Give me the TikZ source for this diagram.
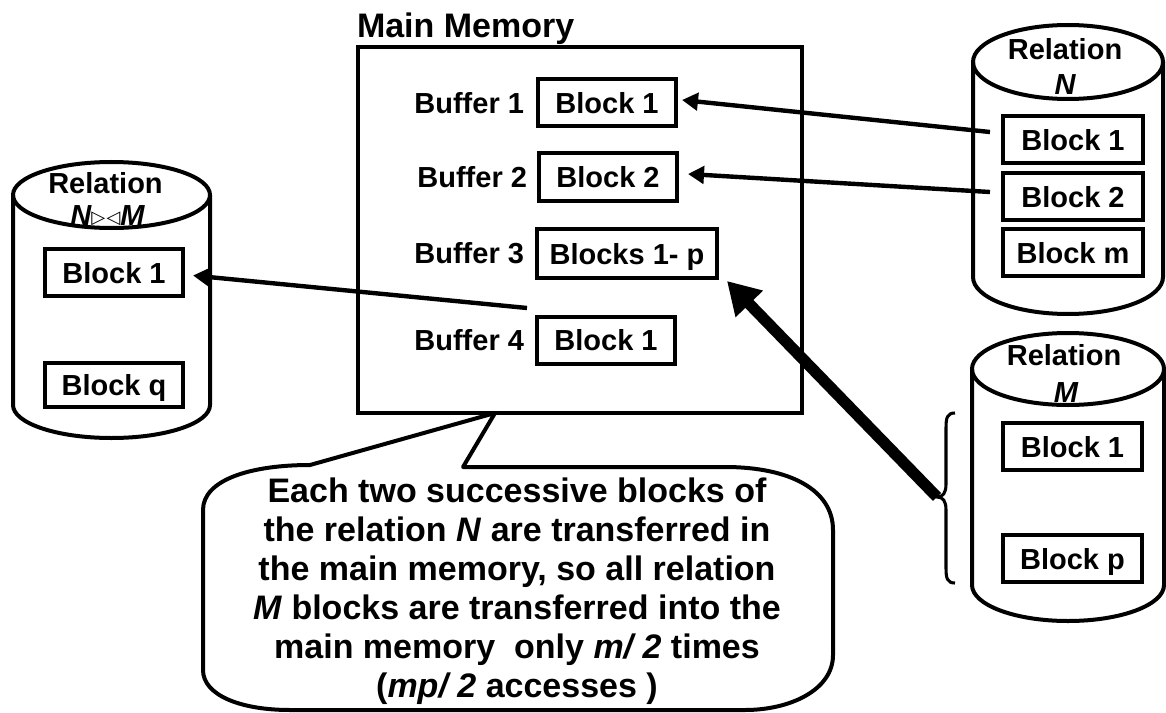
\documentclass[tikz,border=0pt]{standalone}
\usepackage{fontspec}
\setmainfont{Liberation Sans}
\newfontfamily\symfont{DejaVu Sans}
\usetikzlibrary{arrows.meta}

\begin{document}
\begin{tikzpicture}[x=0.75pt,y=-0.75pt,
  every node/.style={inner sep=0pt, outer sep=0pt},
  lbl/.style={font=\fontsize{21.75pt}{26pt}\selectfont\bfseries, text height=16pt, text depth=0pt},
  blk/.style={lbl, draw, line width=3pt, minimum width=103.5pt, minimum height=35.25pt},
  ttl/.style={font=\fontsize{21.75pt}{26pt}\selectfont\bfseries, anchor=base},
  big/.style={font=\fontsize{25.5pt}{29.25pt}\selectfont\bfseries},
  ln/.style={line width=3pt},
  arr/.style={line width=3.3pt, -{Triangle[length=12pt,width=13pt]}},
  bigarr/.style={line width=8.5pt, -{Triangle[length=24pt,width=27pt]}},
]
\fill[white] (0,0) rectangle (1166,713);
\useasboundingbox (0,0) rectangle (1166,713);

% ---------- main memory ----------
\node[draw, line width=3pt, minimum width=333pt, minimum height=274.5pt] (mem) at (580,230) {};
\node[big, anchor=base west] (memt) at (357,38) {Main Memory};

\node[blk] (m1) at (607,103) {Block 1};
\node[blk] (m2) at (608,177) {Block 2};
\node[blk, minimum width=135pt, minimum height=36.75pt] (m3) at (627,253.5) {Blocks 1- p};
\node[blk] (m4) at (606,340) {Block 1};

\node[lbl, anchor=east] (buf1) at (524,103) {Buffer 1};
\node[lbl, anchor=east] (buf2) at (527,177) {Buffer 2};
\node[lbl, anchor=east] (buf3) at (524,253) {Buffer 3};
\node[lbl, anchor=east] (buf4) at (524,340) {Buffer 4};

% ---------- relation N (disk) ----------
\draw[ln] (1068,62) ellipse [x radius=95, y radius=37];
\draw[ln] (973,62) -- (973,277) arc[start angle=180, end angle=0, x radius=95, y radius=37] -- (1163,62);
\node[ttl] (nt) at (1065,60) {Relation};
\node[ttl] (nn) at (1065,95) {\itshape N};
\node[blk, minimum width=105pt] (n1) at (1073,140) {Block 1};
\node[blk, minimum width=105pt] (n2) at (1073,196.5) {Block 2};
\node[blk, minimum width=105pt] (n3) at (1073,252.5) {Block m};

% ---------- relation M (disk) ----------
\draw[ln] (1068,369) ellipse [x radius=96, y radius=36];
\draw[ln] (972,369) -- (972,585) arc[start angle=180, end angle=0, x radius=96, y radius=36] -- (1164,369);
\node[ttl] (mt) at (1064,365) {Relation};
\node[ttl] (mm) at (1066,402) {\itshape M};
\node[blk, minimum width=104pt] (k1) at (1072.5,446.5) {Block 1};
\node[blk, minimum width=104pt] (kp) at (1072.5,558.5) {Block p};

% ---------- result relation (disk) ----------
\draw[ln] (111.5,195) ellipse [x radius=98.5, y radius=33];
\draw[ln] (13,195) -- (13,405) arc[start angle=180, end angle=0, x radius=98.5, y radius=33] -- (210,195);
\node[ttl] (rt) at (105.5,193) {Relation};
\node[ttl] (rn) at (107.5,225) {\itshape N{\symfont\fontsize{13.5pt}{14pt}\selectfont\raisebox{1pt}{▷\kern1pt◁}}M};
\node[blk] (r1) at (114,272.5) {Block 1};
\node[blk, minimum height=33pt] (rq) at (114,385) {Block q};

% ---------- transfers ----------
\coordinate (na) at (990,132);
\coordinate (nb) at (990,192);
\coordinate (ra) at (527,308);
\draw[arr] (na) -- ([shift={(6,-3)}]m1.east);
\draw[arr] (nb) -- ([shift={(11,-3)}]m2.east);
\draw[arr] (ra) -- ([shift={(10,3)}]r1.east);

% brace over the blocks of M and the bulk transfer
\coordinate (bt) at (937,497);
\draw[line width=2.3pt] (955,413) .. controls (947,413) and (946,418) .. (946,428) -- (946,484)
  .. controls (946,493) and (943,497) .. (bt)
  .. controls (943,497) and (946,501) .. (946,510) -- (946,568)
  .. controls (946,578) and (947,583) .. (955,583);
\draw[bigarr] (bt) -- ([shift={(10,3)}]m3.south east);

% ---------- callout ----------
\coordinate (tip) at ([shift={(137,0)}]mem.south west);
\draw[ln, line join=round, fill=white] (310,465) -- (tip) -- (463,467) -- (725,467)
  .. controls (790,467) and (833,490) .. (833,530) -- (833,655)
  .. controls (833,690) and (790,710) .. (745,710) -- (290,710)
  .. controls (240,710) and (203,695) .. (203,670) -- (203,510)
  .. controls (203,480) and (250,465) .. (310,465) -- cycle;
\node[big, align=center] (note) at (517,591) {Each two successive blocks of\\
the relation \textit{N} are transferred in\\
the main memory, so all relation\\
\textit{M} blocks are transferred into the\\
main memory\ \ only \textit{m/ 2} times\\
(\textit{mp/ 2} accesses )};
\end{tikzpicture}
\end{document}
